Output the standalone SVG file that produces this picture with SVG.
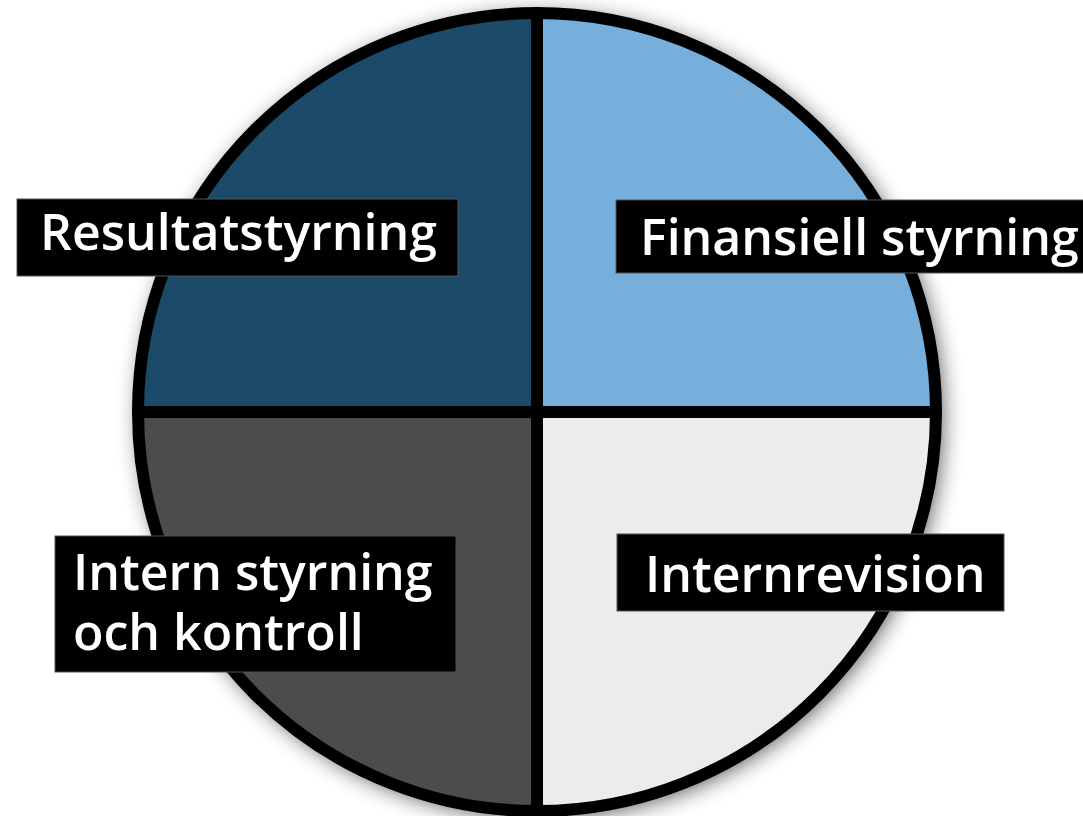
<svg xmlns="http://www.w3.org/2000/svg" width="1083" height="816" viewBox="0 0 1083 816">
  <defs>
    <filter id="shadow" x="-20%" y="-20%" width="140%" height="140%">
      <feGaussianBlur in="SourceAlpha" stdDeviation="12"/>
      <feOffset dx="4" dy="4" result="b"/>
      <feComponentTransfer><feFuncA type="linear" slope="0.8"/></feComponentTransfer>
      <feMerge><feMergeNode/><feMergeNode in="SourceGraphic"/></feMerge>
    </filter>
  </defs>
  <style>
    .lbl { fill: #000000; stroke: #555555; stroke-width: 1; }
    .txt { font-family: "Open Sans", "Noto Sans", sans-serif; font-weight: 600; font-size: 50px; fill: #ffffff; }
    .line { stroke: #000000; stroke-width: 12; fill: none; }
  </style>
  <rect width="1083" height="816" fill="#ffffff"/>
  <circle cx="537" cy="412" r="399" fill="#000000" filter="url(#shadow)"/>
  <g id="resultatstyrning">
    <path d="M537,412 L138,412 A399,399 0 0 1 537,13 Z" fill="#1c4a69"/>
  </g>
  <g id="finansiell-styrning">
    <path d="M537,412 L537,13 A399,399 0 0 1 936,412 Z" fill="#77afdc"/>
  </g>
  <g id="internrevision">
    <path d="M537,412 L936,412 A399,399 0 0 1 537,811 Z" fill="#ececec"/>
  </g>
  <g id="intern-styrning">
    <path d="M537,412 L537,811 A399,399 0 0 1 138,412 Z" fill="#4b4d4d"/>
  </g>
  <g id="connectors">
    <circle class="line" cx="537" cy="412" r="399"/>
    <line class="line" x1="537" y1="13" x2="537" y2="811"/>
    <line class="line" x1="138" y1="412" x2="936" y2="412"/>
  </g>
  <g id="label-resultatstyrning">
    <rect class="lbl" x="17" y="199" width="441" height="77"/>
    <text class="txt" x="40" y="250">Resultatstyrning</text>
  </g>
  <g id="label-finansiell">
    <rect class="lbl" x="616" y="200" width="480" height="73"/>
    <text class="txt" x="640" y="255">Finansiell styrning</text>
  </g>
  <g id="label-intern">
    <rect class="lbl" x="55" y="536" width="401" height="136"/>
    <text class="txt" x="73" y="590">Intern styrning</text>
    <text class="txt" x="73" y="650">och kontroll</text>
  </g>
  <g id="label-internrevision">
    <rect class="lbl" x="617" y="534" width="387" height="77"/>
    <text class="txt" x="645" y="592">Internrevision</text>
  </g>
</svg>
